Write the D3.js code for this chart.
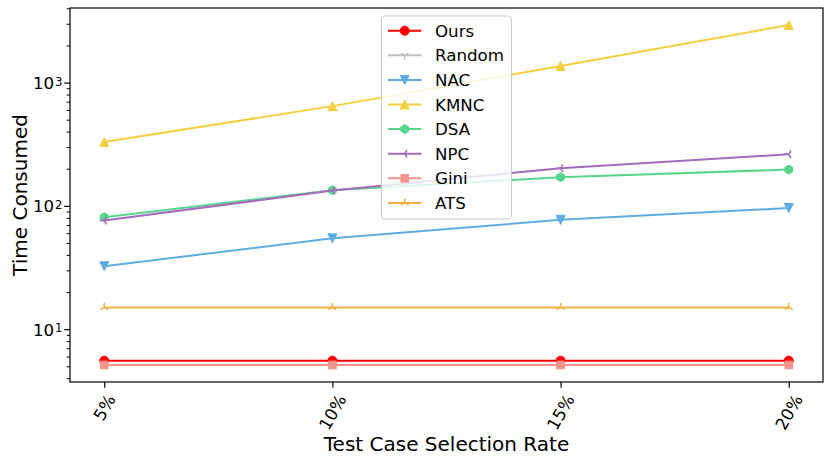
<!DOCTYPE html>
<html>
<head>
<meta charset="utf-8">
<script src="https://cdn.jsdelivr.net/npm/d3@7"></script>
<style>
  body { margin: 0; background: #fff; }
  text { font-family: "DejaVu Sans", sans-serif; fill: #000; }
</style>
</head>
<body>
<div id="chart"></div>
<script>
// Data
var rates = ['5%', '10%', '15%', '20%'];
var methods = ['Ours', 'Random', 'NAC', 'KMNC', 'DSA', 'NPC', 'Gini', 'ATS'];
var ours   = [5.55, 5.55, 5.55, 5.55];
var random = [0, 0, 0, 0];          // not visible on the log axis
var nac    = [32.4, 54.5, 77, 96];
var kmnc   = [330, 644, 1360, 2930];
var dsa    = [81, 134, 171, 197];
var npc    = [76, 133, 202, 262];
var gini   = [5.12, 5.12, 5.12, 5.12];
var ats    = [15, 15, 15, 15];
var yTickValues = [10, 100, 1000];

var seriesValues = [ours, random, nac, kmnc, dsa, npc, gini, ats];
var colors = ['#ff0000', '#c0c0c0', '#5dade2', '#f4d03f', '#58d68d', '#a569bd', '#f1948a', '#f5b041'];
var markers = ['circle', 'tri_down', 'triangle_down', 'triangle_up', 'hexagon', 'tri_left', 'square', 'tri_up'];

var svgWidth = 831;
var svgHeight = 463;
var margin = { top: 8, right: 8, bottom: 81, left: 70 };
var chartWidth = svgWidth - margin.left - margin.right;
var chartHeight = svgHeight - margin.top - margin.bottom;

var svg = d3.select('#chart')
    .append('svg')
    .attr('width', svgWidth)
    .attr('height', svgHeight);

var chartGroup = svg.append('g')
    .attr('transform', `translate(${margin.left}, ${margin.top})`);

// x: index positions with 5% margins, like matplotlib
var xScale = d3.scaleLinear()
    .domain([-0.15, rates.length - 1 + 0.15])
    .range([0, chartWidth]);

// y: log scale with 5% margins in log space
var allPos = [];
seriesValues.forEach(function(s) { s.forEach(function(v) { if (v > 0) allPos.push(Math.log10(v)); }); });
var lmin = d3.min(allPos), lmax = d3.max(allPos);
var pad = (lmax - lmin) * 0.05;
var yScale = d3.scaleLog()
    .domain([Math.pow(10, lmin - pad), Math.pow(10, lmax + pad)])
    .range([chartHeight, 0]);

// minor ticks
var minorTicks = [];
for (var e = -1; e <= 4; e++) {
    for (var k = 2; k <= 9; k++) {
        var v = k * Math.pow(10, e);
        if (v >= yScale.domain()[0] && v <= yScale.domain()[1]) minorTicks.push(v);
    }
}

var fontTick = 16.67;

// lines and markers
function markerPath(type, s) {
    var h = s / 2;
    switch (type) {
        case 'triangle_up': return `M0,${-h}L${h},${h}L${-h},${h}Z`;
        case 'triangle_down': return `M0,${h}L${h},${-h}L${-h},${-h}Z`;
        case 'square': var q = h * 0.85; return `M${-q},${-q}H${q}V${q}H${-q}Z`;
        case 'hexagon':
            var pts = d3.range(6).map(function(i) {
                var a = (-90 + 60 * i) * Math.PI / 180;
                return [h * Math.cos(a), h * Math.sin(a)];
            });
            return 'M' + pts.join('L') + 'Z';
        case 'tri_down': return `M0,0V${h}M0,0L${0.866 * h},${-0.5 * h}M0,0L${-0.866 * h},${-0.5 * h}`;
        case 'tri_up': return `M0,0V${-h}M0,0L${0.866 * h},${0.5 * h}M0,0L${-0.866 * h},${0.5 * h}`;
        case 'tri_left': return `M0,0H${-h}M0,0L${0.5 * h},${-0.866 * h}M0,0L${0.5 * h},${0.866 * h}`;
    }
    return '';
}

function drawMarker(g, type, color, x, y) {
    var s = 9;
    if (type === 'circle') {
        g.append('circle').attr('cx', x).attr('cy', y).attr('r', s / 2)
            .attr('fill', color).attr('stroke', color).attr('stroke-width', 1);
    } else if (type.indexOf('tri_') === 0) {
        g.append('path').attr('d', markerPath(type, s))
            .attr('transform', `translate(${x},${y})`)
            .attr('fill', 'none').attr('stroke', color).attr('stroke-width', 1.5);
    } else {
        g.append('path').attr('d', markerPath(type, s))
            .attr('transform', `translate(${x},${y})`)
            .attr('fill', color).attr('stroke', color).attr('stroke-width', 1);
    }
}

var line = d3.line()
    .defined(function(d) { return d > 0; })
    .x(function(d, i) { return xScale(i); })
    .y(function(d) { return yScale(d); });

var plotGroup = chartGroup.append('g');
seriesValues.forEach(function(vals, si) {
    var g = plotGroup.append('g');
    g.append('path')
        .datum(vals)
        .attr('d', line)
        .attr('fill', 'none')
        .attr('stroke', colors[si])
        .attr('stroke-width', 2);
    vals.forEach(function(v, i) {
        if (v > 0) drawMarker(g, markers[si], colors[si], xScale(i), yScale(v));
    });
});

// frame
chartGroup.append('rect')
    .attr('width', chartWidth)
    .attr('height', chartHeight)
    .attr('fill', 'none')
    .attr('stroke', '#000')
    .attr('stroke-width', 1.2);

// y axis major
var yAxis = d3.axisLeft(yScale).tickValues(yTickValues).tickSize(5.8).tickPadding(5.8).tickFormat('');
var yAxisG = chartGroup.append('g').call(yAxis);
yAxisG.select('.domain').remove();
yAxisG.selectAll('line').attr('stroke-width', 1.2);
yAxisG.selectAll('.tick').each(function(d) {
    var t = d3.select(this).select('text')
        .attr('x', -7.5)
        .attr('dy', null)
        .attr('y', 6)
        .attr('font-size', fontTick)
        .attr('text-anchor', 'end')
        .attr('fill', '#000');
    t.append('tspan').text('10');
    t.append('tspan').text(Math.round(Math.log10(d)))
        .attr('font-size', fontTick * 0.7)
        .attr('dx', 1)
        .attr('dy', -3.5);
});

// y axis minor
var yMinor = d3.axisLeft(yScale).tickValues(minorTicks).tickSize(3.3).tickFormat('');
var yMinorG = chartGroup.append('g').call(yMinor);
yMinorG.select('.domain').remove();
yMinorG.selectAll('line').attr('stroke-width', 1);

// x axis
var xAxis = d3.axisBottom(xScale).tickValues(d3.range(rates.length)).tickSize(5.8).tickFormat(function(i) { return rates[i]; });
var xAxisG = chartGroup.append('g')
    .attr('transform', `translate(0, ${chartHeight})`)
    .call(xAxis);
xAxisG.select('.domain').remove();
xAxisG.selectAll('line').attr('stroke-width', 1.2);
xAxisG.selectAll('.tick text').each(function() {
    var t = d3.select(this)
        .attr('font-size', fontTick)
        .attr('fill', '#000')
        .attr('dy', null)
        .attr('dominant-baseline', 'central')
        .attr('text-anchor', 'middle');
    var w = this.getComputedTextLength();
    var h = fontTick * 1.16;
    var a = Math.PI / 3;
    var bh = w * Math.sin(a) + h * Math.cos(a);
    var cy = 9.5 + bh / 2;
    t.attr('y', null).attr('transform', `translate(0, ${cy}) rotate(-60)`);
});

// axis labels
svg.append('text')
    .attr('x', margin.left + chartWidth / 2)
    .attr('y', 451)
    .attr('text-anchor', 'middle')
    .attr('font-size', 20)
    .text('Test Case Selection Rate');

svg.append('text')
    .attr('transform', `translate(27, ${margin.top + chartHeight / 2}) rotate(-90)`)
    .attr('text-anchor', 'middle')
    .attr('font-size', 20)
    .text('Time Consumed');

// legend
var legend = svg.append('g');
legend.append('rect')
    .attr('x', 381.5).attr('y', 16)
    .attr('width', 130).attr('height', 203)
    .attr('rx', 3).attr('ry', 3)
    .attr('fill', '#fff').attr('fill-opacity', 0.8)
    .attr('stroke', '#cccccc').attr('stroke-width', 1);

methods.forEach(function(name, i) {
    var y = 30.7 + i * 24.6;
    legend.append('line')
        .attr('x1', 388).attr('x2', 421.5)
        .attr('y1', y).attr('y2', y)
        .attr('stroke', colors[i]).attr('stroke-width', 2);
    drawMarker(legend, markers[i], colors[i], 404.7, y);
    legend.append('text')
        .attr('x', 435)
        .attr('y', y + 6)
        .attr('font-size', fontTick)
        .text(name);
});
</script>
</body>
</html>
